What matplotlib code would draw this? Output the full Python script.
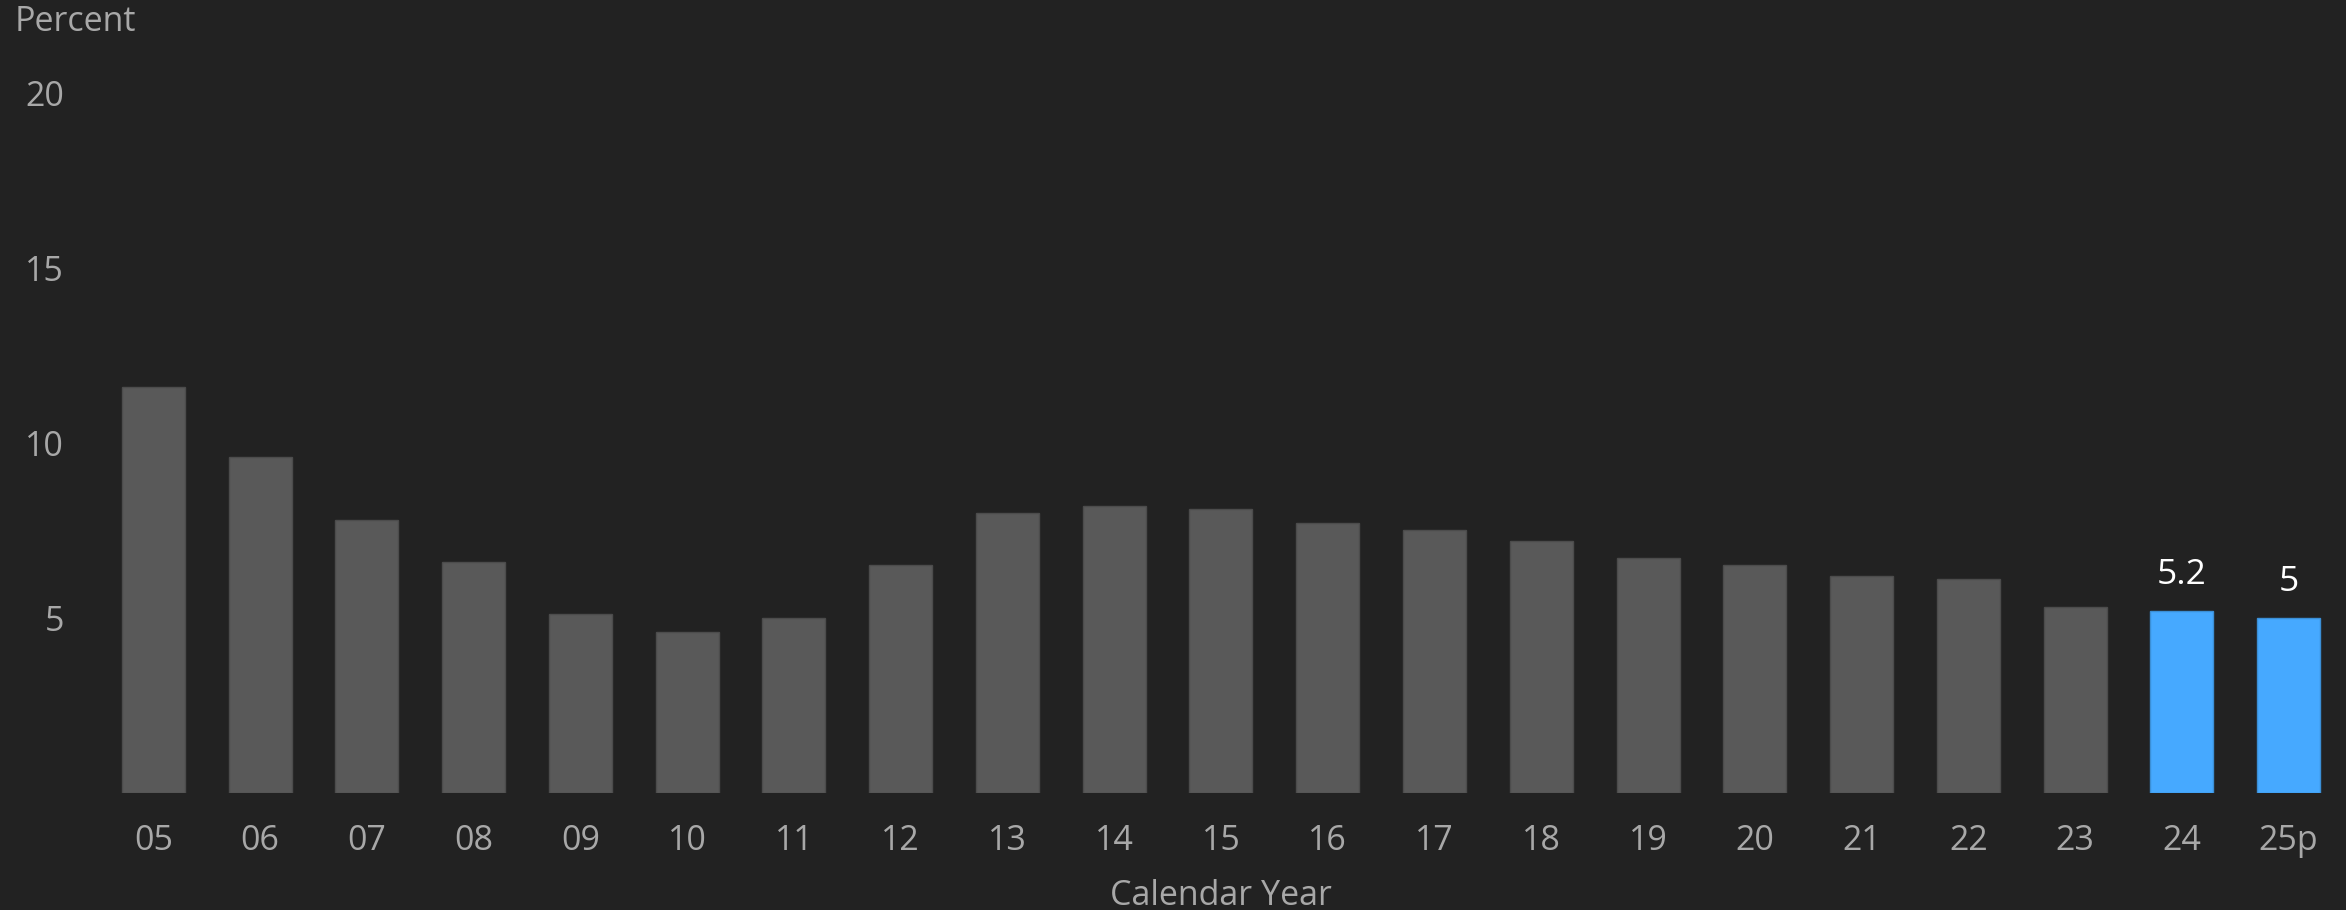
import matplotlib.pyplot as plt
import numpy as np

plt.rcParams['font.family'] = ['Open Sans', 'DejaVu Sans']

years = ['05', '06', '07', '08', '09', '10', '11', '12', '13', '14', '15',
         '16', '17', '18', '19', '20', '21', '22', '23', '24', '25p']
rate = [11.6, 9.6, 7.8, 6.6, 5.1, 4.6, 5.0, 6.5, 8.0, 8.2, 8.1,
        7.7, 7.5, 7.2, 6.7, 6.5, 6.2, 6.1, 5.3, 5.2, 5.0]
highlight = ['24', '25p']
value_labels = {'24': '5.2', '25p': '5'}

bg = '#222222'
grey_bar = '#595959'
blue_bar = '#46A9FF'
text_grey = '#A8A8A8'

fig = plt.figure(figsize=(23.46, 9.10), dpi=100, facecolor=bg)
ax = fig.add_axes([0.0426, 0.1286, 0.9557, 0.8077], facecolor=bg)

x = np.arange(len(years))
colors = [blue_bar if y in highlight else grey_bar for y in years]
edges = ['#3B8FD6' if y in highlight else '#4C4C4C' for y in years]
bars = ax.bar(x, rate, width=0.59, color=colors, edgecolor=edges, linewidth=1)

for xi, y, v in zip(x, years, rate):
    if y in value_labels:
        ax.annotate(value_labels[y], (xi, v), xytext=(0, 14), textcoords='offset points',
                    ha='center', va='bottom', color='white', fontsize=25.5)

ax.set_xlim(-0.5, len(years) - 0.5)
ax.set_ylim(0, 21)
ax.set_yticks([5, 10, 15, 20])
ax.set_xticks(x)
ax.set_xticklabels(years)
ax.tick_params(axis='y', length=0, pad=26, labelsize=24.5, labelcolor=text_grey)
ax.tick_params(axis='x', length=0, pad=22, labelsize=24.5, labelcolor=text_grey)
for s in ax.spines.values():
    s.set_visible(False)

fig.text(15 / 2346, 1 - 5 / 910, 'Percent', ha='left', va='top',
         color=text_grey, fontsize=24.5)
fig.text(0.0426 + 0.9557 / 2, 5 / 910, 'Calendar Year', ha='center', va='baseline',
         color=text_grey, fontsize=24.5)

fig.savefig('out.png', dpi=100, facecolor=bg)
